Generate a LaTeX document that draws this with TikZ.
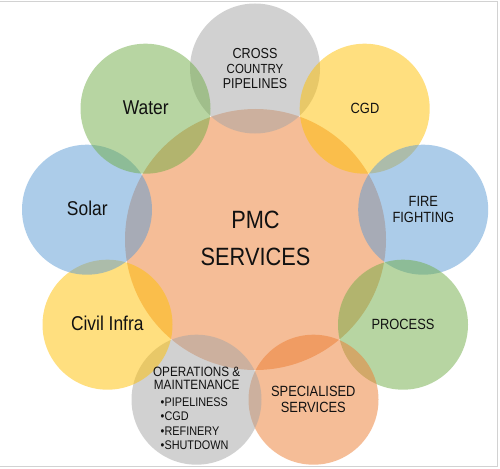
\documentclass[tikz,border=0pt]{standalone}
\usepackage{fontspec}
\setmainfont[FakeStretch=0.87]{Liberation Sans}
\definecolor{cgrey}{HTML}{A5A5A5}
\definecolor{cgreen}{HTML}{70AD47}
\definecolor{cyellow}{HTML}{FFC000}
\definecolor{cblue}{HTML}{5B9BD5}
\definecolor{corange}{HTML}{ED7D31}
\definecolor{ctext}{HTML}{111111}
\definecolor{cframe}{HTML}{D2D2D2}
\tikzset{
  bub/.style={circle, inner sep=0pt, minimum size=130pt, fill opacity=0.5},
  lbl/.style={anchor=base, inner sep=0pt, text=ctext},
}
\begin{document}
\begin{tikzpicture}[x=1pt,y=-1pt]
\useasboundingbox (0,0) rectangle (500,468);
\fill[white] (0,0) rectangle (500,468);
\node[bub, minimum size=261pt, fill=corange] (center) at (255.5,239.5) {};
\node[bub, fill=cgrey]   (cross) at (255,68.5) {};
\node[bub, fill=cyellow] (cgd)   at (364.7,108.7) {};
\node[bub, fill=cblue]   (fire)  at (423.2,209.7) {};
\node[bub, fill=cgreen]  (proc)  at (403,324.7) {};
\node[bub, fill=corange] (spec)  at (313.5,399.7) {};
\node[bub, fill=cgrey]   (om)    at (196.5,399.7) {};
\node[bub, fill=cyellow] (civil) at (107.5,324.7) {};
\node[bub, fill=cblue]   (solar) at (87,209.7) {};
\node[bub, fill=cgreen]  (water) at (145.5,108.7) {};
% frame
\draw[cframe, line width=1pt] (0,1.5) -- (497.7,1.5) -- (497.7,466.5) -- (0,466.5);
% texts
\node[lbl, font=\fontsize{25}{30}\selectfont] (pmc) at (255.5,228.3) {PMC};
\node[lbl, font=\fontsize{25}{30}\selectfont] (pmcs) at (255.5,265) {SERVICES};
\node[lbl, font=\fontsize{14.5}{17}\selectfont] (cr1) at (255,58.3) {CROSS};
\node[lbl, font=\fontsize{13.2}{16}\selectfont] (cr2) at (255,74) {COUNTRY};
\node[lbl, font=\fontsize{14.3}{17}\selectfont] (cr3) at (255,88.7) {PIPELINES};
\node[lbl, font=\fontsize{14.8}{17}\selectfont] (cgdt) at (365,113.3) {CGD};
\node[lbl, font=\fontsize{14.8}{17}\selectfont] (fi1) at (423.3,206.7) {FIRE};
\node[lbl, font=\fontsize{14.8}{17}\selectfont] (fi2) at (423.3,222.3) {FIGHTING};
\node[lbl, font=\fontsize{14.8}{17}\selectfont] (prt) at (403,329) {PROCESS};
\node[lbl, font=\fontsize{14.8}{17}\selectfont] (sp1) at (313.3,396.7) {SPECIALISED};
\node[lbl, font=\fontsize{14.8}{17}\selectfont] (sp2) at (313.3,412.7) {SERVICES};
\node[lbl, font=\fontsize{20}{24}\selectfont] (wt) at (145.7,114.3) {Water};
\node[lbl, font=\fontsize{20}{24}\selectfont] (st) at (87.3,215) {Solar};
\node[lbl, font=\fontsize{20}{24}\selectfont] (ct) at (107.3,330) {Civil Infra};
\node[lbl, font=\fontsize{13.5}{16}\selectfont] (om1) at (196.7,376.7) {OPERATIONS \&};
\node[lbl, font=\fontsize{13.5}{16}\selectfont] (om2) at (196.7,389.3) {MAINTENANCE};
\node[lbl, anchor=base west, font=\fontsize{12.5}{15}\selectfont] (b1) at (160.5,406.7) {•PIPELINESS};
\node[lbl, anchor=base west, font=\fontsize{12.5}{15}\selectfont] (b2) at (160.5,420.7) {•CGD};
\node[lbl, anchor=base west, font=\fontsize{12.5}{15}\selectfont] (b3) at (160.5,435) {•REFINERY};
\node[lbl, anchor=base west, font=\fontsize{12.5}{15}\selectfont] (b4) at (160.5,449) {•SHUTDOWN};
\end{tikzpicture}
\end{document}
